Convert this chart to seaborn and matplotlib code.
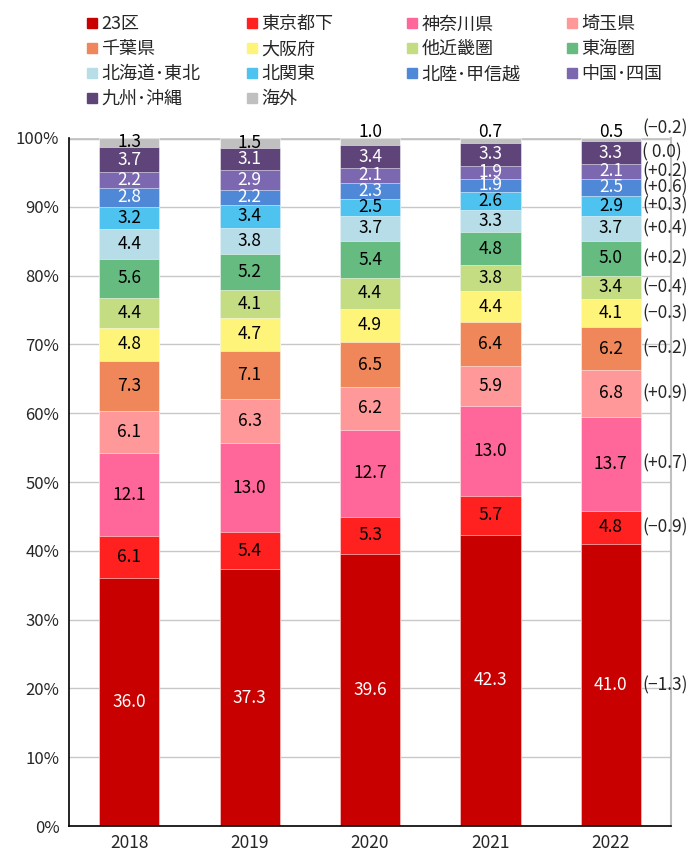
import matplotlib
matplotlib.use("Agg")
import matplotlib.pyplot as plt
import pandas as pd
import seaborn as sns
from matplotlib.lines import Line2D

sns.set_style("white")
plt.rcParams["font.family"] = ["Noto Sans CJK JP", "DejaVu Sans"]

years = ["2018", "2019", "2020", "2021", "2022"]
regions = ["23区", "東京都下", "神奈川県", "埼玉県", "千葉県", "大阪府", "他近畿圏", "東海圏",
           "北海道･東北", "北関東", "北陸･甲信越", "中国･四国", "九州･沖縄", "海外"]
colors = ["#C80000", "#FF2020", "#FF6699", "#FF9999", "#F0875A", "#FFF47A", "#C4DC82", "#66BB80",
          "#B7DDE8", "#4FC3F0", "#5088D8", "#7B68B0", "#5E4478", "#C0C0C0"]
white_text = ["23区", "北陸･甲信越", "中国･四国", "九州･沖縄"]

shares_2018 = [36.0, 6.1, 12.1, 6.1, 7.3, 4.8, 4.4, 5.6, 4.4, 3.2, 2.8, 2.2, 3.7, 1.3]
shares_2019 = [37.3, 5.4, 13.0, 6.3, 7.1, 4.7, 4.1, 5.2, 3.8, 3.4, 2.2, 2.9, 3.1, 1.5]
shares_2020 = [39.6, 5.3, 12.7, 6.2, 6.5, 4.9, 4.4, 5.4, 3.7, 2.5, 2.3, 2.1, 3.4, 1.0]
shares_2021 = [42.3, 5.7, 13.0, 5.9, 6.4, 4.4, 3.8, 4.8, 3.3, 2.6, 1.9, 1.9, 3.3, 0.7]
shares_2022 = [41.0, 4.8, 13.7, 6.8, 6.2, 4.1, 3.4, 5.0, 3.7, 2.9, 2.5, 2.1, 3.3, 0.5]
change_labels = ["(−1.3)", "(−0.9)", "(+0.7)", "(+0.9)", "(−0.2)", "(−0.3)", "(−0.4)",
                 "(+0.2)", "(+0.4)", "(+0.3)", "(+0.6)", "(+0.2)", "( 0.0)", "(−0.2)"]

rows = []
for year, shares in zip(years, [shares_2018, shares_2019, shares_2020, shares_2021, shares_2022]):
    for region, v in zip(regions, shares):
        rows.append({"year": year, "region": region, "share": v})
df = pd.DataFrame(rows)
df["top"] = df.groupby("year")["share"].cumsum()
df["bottom"] = df["top"] - df["share"]

fig = plt.figure(figsize=(6.98, 8.55), dpi=100)
ax = fig.add_axes([0.0989, 0.0339, 0.8625, 0.8047])

# stacked look: draw cumulative tops from the highest down
for region, c in reversed(list(zip(regions, colors))):
    sub = df[df["region"] == region]
    sns.barplot(data=sub, x="year", y="top", order=years, color=c, saturation=1,
                width=0.5, edgecolor=(1, 1, 1, 0.6), linewidth=0.6, ax=ax)

for _, r in df.iterrows():
    i = years.index(r["year"])
    y = r["bottom"] + r["share"] / 2
    if r["region"] == "海外" and r["share"] < 1.2:
        y = 100.8
    col = "white" if r["region"] in white_text else "black"
    ax.text(i, y, f"{r['share']:.1f}", ha="center", va="center", fontsize=12.5, color=col)

last = df[df["year"] == years[-1]]
for (_, r), lab in zip(last.iterrows(), change_labels):
    y = r["bottom"] + r["share"] / 2
    if r["region"] == "海外":
        y = 101.4
    ax.text(len(years) - 1 + 0.26, y, lab, ha="left", va="center", fontsize=12.5, clip_on=False)

ax.set_xlim(-0.5, len(years) - 0.5)
ax.set_ylim(0, 100)
ax.set_yticks(range(0, 101, 10))
ax.set_yticklabels([f"{t}%" for t in range(0, 101, 10)], fontsize=12)
ax.set_xticks(range(len(years)))
ax.set_xticklabels(years, fontsize=12.5)
ax.set_xticks([i - 0.5 for i in range(len(years) + 1)], minor=True)
ax.tick_params(axis="x", which="major", length=0, pad=6)
ax.tick_params(axis="x", which="minor", length=6, direction="out", color="black", width=1.2)
ax.tick_params(axis="y", length=5, direction="out", color="black", width=1.2, pad=2)
ax.set_xlabel("")
ax.set_ylabel("")
ax.yaxis.grid(True, color="#C8C8C8", lw=1)
ax.set_axisbelow(True)
ax.axhline(100, color="#C0C0C0", lw=2.5, zorder=0)
ax.spines["top"].set_visible(False)
ax.spines["right"].set_color("#C0C0C0")
ax.spines["right"].set_linewidth(1.5)
for s in ["left", "bottom"]:
    ax.spines[s].set_color("black")
    ax.spines[s].set_linewidth(1.2)

handles = [Line2D([], [], marker="s", linestyle="", color=c, markersize=7) for c in colors]
for k, x0 in enumerate([0.1232, 0.3524, 0.5817, 0.8109]):
    fig.legend(handles[k::4], regions[k::4], loc="upper left", bbox_to_anchor=(x0, 0.982),
               frameon=False, fontsize=13, handlelength=0.7, handletextpad=0.15,
               labelspacing=0.38, borderpad=0, borderaxespad=0)

fig.savefig("out.png", dpi=100)
